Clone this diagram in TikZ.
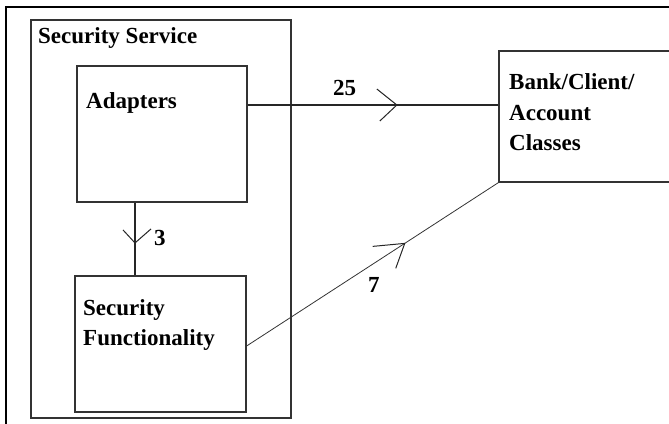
\documentclass[tikz,border=0pt]{standalone}
\usepackage{fontspec}
\setmainfont{Liberation Serif}
\begin{document}
\begin{tikzpicture}[x=1pt,y=-1pt,
  box/.style={draw=black!80, line width=1.2pt, inner sep=0pt, rectangle},
  lbl/.style={anchor=base west, inner sep=0pt, font=\fontsize{23}{30}\selectfont\bfseries},
  conn/.style={draw=black!85, line width=1.1pt},
  thinconn/.style={draw=black!80, line width=0.8pt},
  arm/.style={draw=black!85, line width=1pt}]
\useasboundingbox (0,0) rectangle (669,423);
% outer frame (only top and left edges visible)
\draw[line width=2.6pt] (6,440) -- (6,7) -- (690,7);
% boxes
\node[box, minimum width=260pt, minimum height=398pt] (svc) at (161,219) {};
\node[box, minimum width=170pt, minimum height=136pt] (adapters) at (162,134) {};
\node[box, minimum width=171pt, minimum height=136pt] (sf) at (160.5,344) {};
\node[box, minimum width=221pt, minimum height=131pt] (bank) at (609.5,116.5) {};
% texts
\node[lbl] (tsvc) at (38,43) {Security Service};
\node[lbl] (tad) at (86,108) {Adapters};
\node[lbl] (tsf1) at (83,315) {Security};
\node[lbl] (tsf2) at (83,345) {Functionality};
\node[lbl] (tb1) at (509,89) {Bank/Client/};
\node[lbl] (tb2) at (509,120) {Account};
\node[lbl] (tb3) at (509,150) {Classes};
% connectors
\draw[conn] ([yshift=29pt]adapters.east) -- coordinate[pos=0.595] (t25) ([yshift=29pt]adapters.east -| bank.west);
\draw[conn] ([xshift=-27pt]adapters.south) -- coordinate[pos=0.554] (t3) ([xshift=-27pt]adapters.south |- sf.north);
\draw[thinconn] ([yshift=-2pt]sf.east) -- coordinate[pos=0.628] (t7) (bank.south west);
% open arrowheads
\draw[arm] (t25) ++(-20,-16) -- (t25) -- ++(-17,16);
\draw[arm] (t3) ++(-12,-13) -- (t3) -- ++(16,-14);
\draw[arm] (t7) ++(-32,3) -- (t7) -- ++(-9,25);
% connector labels
\node[lbl] (l25) at (333,95) {25};
\node[lbl] (l3) at (154,245) {3};
\node[lbl] (l7) at (368,292) {7};
\end{tikzpicture}
\end{document}
